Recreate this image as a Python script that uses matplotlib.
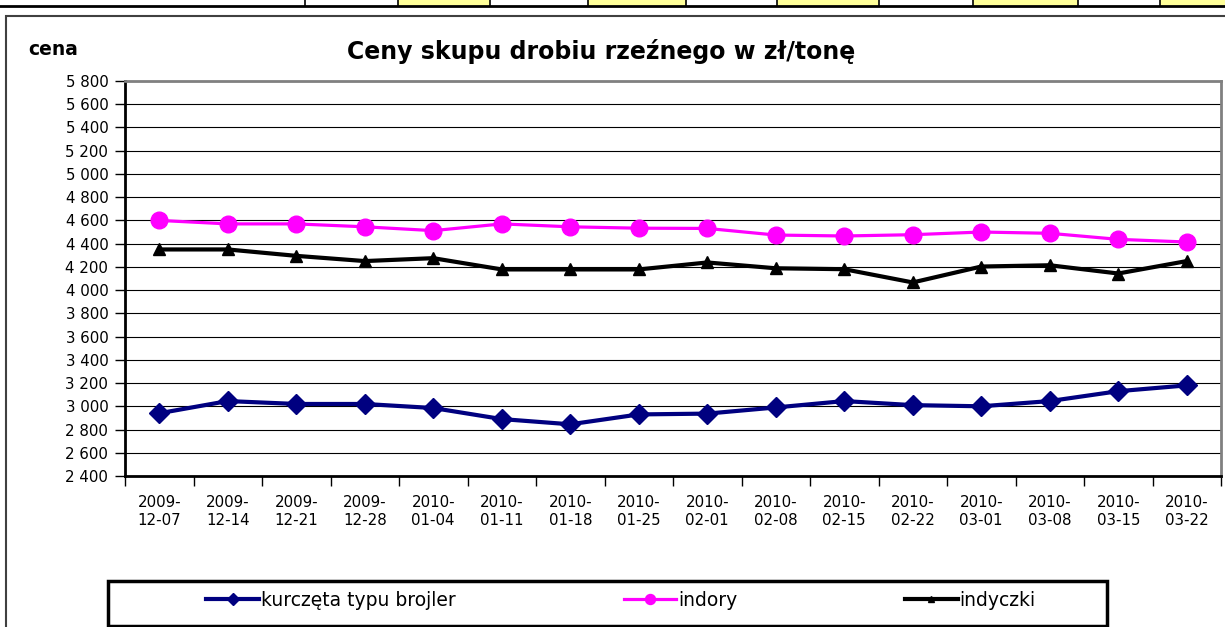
import matplotlib.pyplot as plt
from matplotlib.patches import Rectangle
from matplotlib.ticker import FuncFormatter, FixedLocator

plt.rcParams['font.family'] = ['DejaVu Sans']

daty = ['2009-\n12-07', '2009-\n12-14', '2009-\n12-21', '2009-\n12-28',
        '2010-\n01-04', '2010-\n01-11', '2010-\n01-18', '2010-\n01-25',
        '2010-\n02-01', '2010-\n02-08', '2010-\n02-15', '2010-\n02-22',
        '2010-\n03-01', '2010-\n03-08', '2010-\n03-15', '2010-\n03-22']

kurczeta = [2940, 3045, 3020, 3020, 2985, 2890, 2845, 2930,
            2937, 2990, 3045, 3010, 3000, 3045, 3130, 3180]
indory = [4600, 4570, 4570, 4545, 4512, 4570, 4545, 4533,
          4531, 4474, 4466, 4477, 4500, 4489, 4437, 4414]
indyczki = [4350, 4350, 4295, 4250, 4275, 4178, 4178, 4178,
            4238, 4188, 4180, 4066, 4203, 4214, 4143, 4250]

fig = plt.figure(figsize=(12.25, 6.27), dpi=100)

# resztki tabeli nad wykresem
W, H = 1225, 627
def fx(px):
    return px / W
def fy(py):
    return 1 - py / H

yellow_cells = [(398, 490), (588, 686), (777, 879), (973, 1078), (1160, 1225)]
for a, b in yellow_cells:
    fig.patches.append(Rectangle((fx(a), fy(6)), fx(b - a), 6 / H,
                                 transform=fig.transFigure, facecolor='#FFFF99',
                                 edgecolor='none', zorder=0))
for xs in [305, 398, 490, 588, 686, 777, 879, 973, 1078, 1160]:
    fig.add_artist(plt.Line2D([fx(xs), fx(xs)], [fy(0), fy(6)], color='black',
                              lw=1.2, transform=fig.transFigure))
fig.add_artist(plt.Line2D([0, 1], [fy(6), fy(6)], color='black', lw=2,
                          transform=fig.transFigure))

# ramka obszaru wykresu
fig.patches.append(Rectangle((fx(6), fy(640)), 1.1, (640 - 16) / H,
                             transform=fig.transFigure, facecolor='none',
                             edgecolor='#404040', lw=1.5))

ax = fig.add_axes([fx(125), fy(476), fx(1221 - 125), (476 - 81) / H])
x = list(range(len(daty)))

ax.plot(x, kurczeta, color='#000080', lw=3, marker='D', ms=10,
        label='kurczęta typu brojler', zorder=3)
ax.plot(x, indory, color='#FF00FF', lw=2.3, marker='o', ms=12,
        label='indory', zorder=3)
ax.plot(x, indyczki, color='black', lw=3, marker='^', ms=8,
        label='indyczki', zorder=3)

ax.set_xlim(-0.5, len(daty) - 0.5)
ax.set_ylim(2400, 5800)
ax.set_yticks(range(2400, 5801, 200))
ax.yaxis.set_major_formatter(FuncFormatter(lambda v, p: f'{int(v):,}'.replace(',', ' ')))
ax.grid(axis='y', color='black', lw=0.8)
ax.set_axisbelow(True)

ax.xaxis.set_major_locator(FixedLocator([i - 0.5 for i in range(len(daty) + 1)]))
ax.xaxis.set_minor_locator(FixedLocator(x))
ax.set_xticklabels([])
ax.set_xticklabels(daty, minor=True)
ax.tick_params(axis='x', which='major', length=7, width=1, direction='out')
ax.tick_params(axis='x', which='minor', length=0, pad=14, labelsize=10.8)
ax.tick_params(axis='y', length=7, width=1, direction='out', pad=5, labelsize=10.8)

for s in ['top', 'right']:
    ax.spines[s].set_color('#808080')
    ax.spines[s].set_linewidth(2)
ax.spines['left'].set_linewidth(2)
ax.spines['bottom'].set_linewidth(2)

fig.text(fx(601), fy(52), 'Ceny skupu drobiu rzeźnego w zł/tonę', ha='center',
         va='center', fontsize=17, fontweight='bold')
fig.text(fx(28), fy(55), 'cena', ha='left', va='baseline', fontsize=13.5,
         fontweight='bold')

# legenda
fig.patches.append(Rectangle((fx(108), fy(626)), fx(1107 - 108), (626 - 581) / H,
                             transform=fig.transFigure, facecolor='white',
                             edgecolor='black', lw=2.5, zorder=1))
h, l = ax.get_legend_handles_labels()
leg = fig.legend(h, l, loc='center', ncol=3, mode='expand', frameon=False,
                 bbox_to_anchor=(fx(197), fy(618), fx(1045 - 197), (618 - 582) / H),
                 fontsize=13.5, handlelength=2.8, handletextpad=0.1, borderpad=0,
                 markerscale=0.6)
leg.set_zorder(2)

fig.savefig('out.png', dpi=100)
